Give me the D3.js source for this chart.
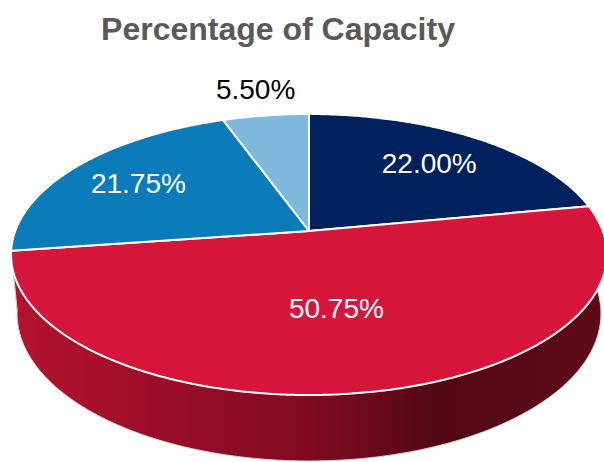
<!DOCTYPE html>
<html>
<head>
<meta charset="utf-8">
<script src="https://cdn.jsdelivr.net/npm/d3@7"></script>
<style>
  html, body { margin: 0; padding: 0; background: #ffffff; }
  svg { display: block; }
</style>
</head>
<body>
<svg id="chart" width="604" height="462"></svg>
<script>
// ---- data ----
const categories = ["A", "B", "C", "D"];
const values = [22.00, 50.75, 21.75, 5.50];
const labels = ["22.00%", "50.75%", "21.75%", "5.50%"];
const title = "Percentage of Capacity";

// ---- styles ----
const colors = ["#00215e", "#d5153a", "#0b7bb9", "#7fb8da"];
const labelColors = ["#ffffff", "#ffffff", "#ffffff", "#000000"];
const labelRadius = [0.70, 0.52, 0.72, 1.28];

// ---- 3D perspective projection ----
const W = 604, H = 462;
const cx = 309, cy = 231;
const alpha = 27.7 * Math.PI / 180;
const ca = Math.cos(alpha), sa = Math.sin(alpha);
const F = 1554, Dist = 5.29, depth = 0.229;

function proj(theta, r, Y) {
  const X = r * Math.sin(theta), Z = r * Math.cos(theta);
  const u = Y * ca + Z * sa;
  const d = Z * ca - Y * sa;
  const k = F / (Dist + d);
  return [cx + X * k, cy - u * k];
}
function arcPts(a0, a1, r, Y) {
  const n = Math.max(2, Math.ceil(Math.abs(a1 - a0) / (Math.PI / 360)));
  return d3.range(n + 1).map(i => proj(a0 + (a1 - a0) * i / n, r, Y));
}

const svg = d3.select("#chart");
const defs = svg.append("defs");
const grad = defs.append("linearGradient")
  .attr("id", "sideGrad").attr("gradientUnits", "userSpaceOnUse")
  .attr("x1", 11).attr("x2", 607).attr("y1", 0).attr("y2", 0);
[["0%", "#b5132f"], ["25%", "#9a0e29"], ["50%", "#800b21"], ["72%", "#520814"], ["100%", "#5e0a19"]]
  .forEach(([o, col]) => grad.append("stop").attr("offset", o).attr("stop-color", col));

const pie = d3.pie().sort(null).value(d => d)(values);
const line = d3.line();

// side walls (only front-facing ones matter; top faces cover the rest)
const frontFirst = pie.map((p, i) => ({ p, i }))
  .sort((a, b) => Math.cos((b.p.startAngle + b.p.endAngle) / 2) - Math.cos((a.p.startAngle + a.p.endAngle) / 2));
svg.append("g").selectAll("path")
  .data(frontFirst)
  .join("path")
  .attr("d", ({ p }) => {
    const top = arcPts(p.startAngle, p.endAngle, 1, 0);
    const bot = arcPts(p.endAngle, p.startAngle, 1, -depth);
    return line(top.concat(bot)) + "Z";
  })
  .attr("fill", ({ i }) => i === 1 ? "url(#sideGrad)" : colors[i])
  .attr("stroke", "#d4d4d4")
  .attr("stroke-width", 1);

// top faces
svg.append("g").selectAll("path")
  .data(pie)
  .join("path")
  .attr("d", p => line([proj(0, 0, 0)].concat(arcPts(p.startAngle, p.endAngle, 1, 0))) + "Z")
  .attr("fill", (p, i) => colors[i])
  .attr("stroke", "#ffffff")
  .attr("stroke-width", 2)
  .attr("stroke-linejoin", "round");

// labels
svg.append("g").selectAll("text")
  .data(pie)
  .join("text")
  .attr("x", (p, i) => proj((p.startAngle + p.endAngle) / 2, labelRadius[i], 0)[0])
  .attr("y", (p, i) => proj((p.startAngle + p.endAngle) / 2, labelRadius[i], 0)[1] + 10)
  .attr("text-anchor", "middle")
  .attr("font-family", "Liberation Sans, Arial, sans-serif")
  .attr("font-size", 28)
  .attr("fill", (p, i) => labelColors[i])
  .text((p, i) => labels[i]);

// title
svg.append("text")
  .attr("x", 278).attr("y", 40)
  .attr("text-anchor", "middle")
  .attr("font-family", "Liberation Sans, Arial, sans-serif")
  .attr("font-weight", "bold")
  .attr("font-size", 32)
  .attr("fill", "#595959")
  .text(title);
</script>
</body>
</html>
